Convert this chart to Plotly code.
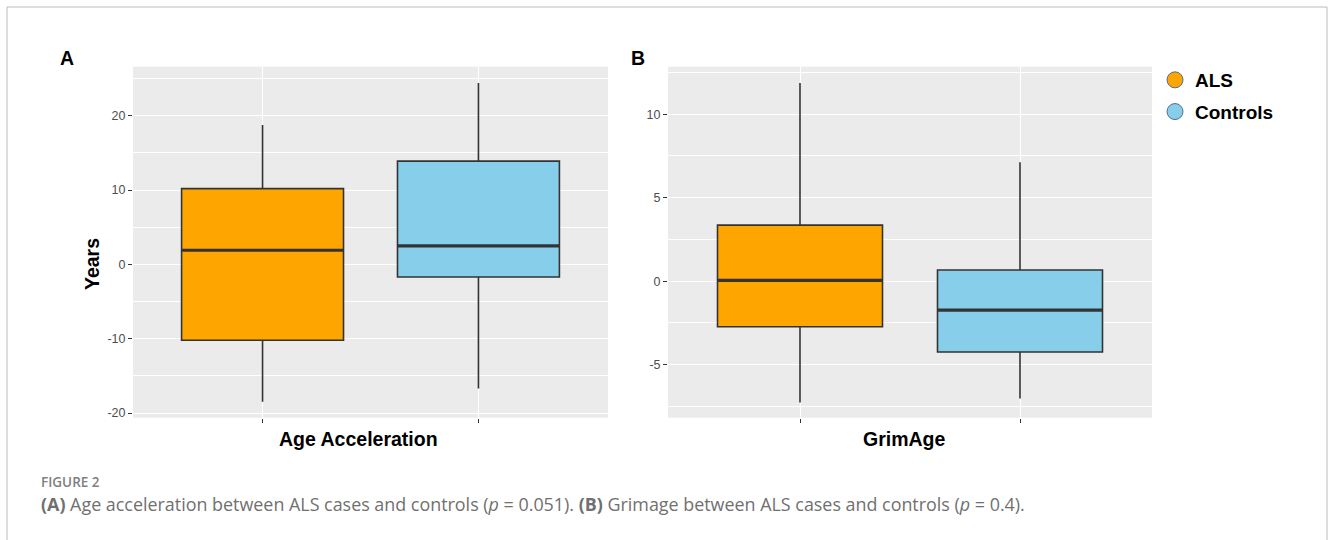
import plotly.graph_objects as go

# ---- data ----
groups = ["ALS", "Controls"]
positions = [0, 1]
colors = ["#FFA500", "#87CEEB"]

# Panel A: Age Acceleration (Years)
a_lower = [-18.5, -16.7]
a_q1 = [-10.2, -1.7]
a_median = [1.9, 2.5]
a_q3 = [10.2, 13.9]
a_upper = [18.75, 24.4]

# Panel B: GrimAge
b_lower = [-7.27, -7.03]
b_q1 = [-2.73, -4.24]
b_median = [0.05, -1.73]
b_q3 = [3.36, 0.67]
b_upper = [11.88, 7.12]

a_ticks = [-20, -10, 0, 10, 20]
a_ticklabels = ["-20", "-10", "0", "10", "20"]
b_ticks = [-5, 0, 5, 10]
b_ticklabels = ["-5", "0", "5", "10"]

W, H = 1330, 540
BOXW = 0.75
LINE = "#333333"

fig = go.Figure()

def add_panel(xref, yref, lower, q1, med, q3, upper):
    for i, g in enumerate(groups):
        fig.add_trace(go.Box(
            x=[positions[i]], lowerfence=[lower[i]], q1=[q1[i]], median=[med[i]],
            q3=[q3[i]], upperfence=[upper[i]], width=BOXW, whiskerwidth=0,
            fillcolor=colors[i], line=dict(color=LINE, width=1.6),
            xaxis=xref, yaxis=yref, showlegend=False, hoverinfo="skip",
            boxpoints=False,
        ))
        # thicker median line (ggplot fatten)
        fig.add_trace(go.Scatter(
            x=[positions[i] - BOXW / 2, positions[i] + BOXW / 2],
            y=[med[i], med[i]], mode="lines",
            line=dict(color=LINE, width=3.2),
            xaxis=xref, yaxis=yref, showlegend=False, hoverinfo="skip",
        ))

add_panel("x", "y", a_lower, a_q1, a_median, a_q3, a_upper)
add_panel("x2", "y2", b_lower, b_q1, b_median, b_q3, b_upper)

# legend entries
for i, g in enumerate(groups):
    fig.add_trace(go.Scatter(
        x=[None], y=[None], mode="markers", name=g, legendgroup=g,
        marker=dict(symbol="circle", size=16, color=colors[i],
                    line=dict(color="#4F6F8F", width=1)),
        xaxis="x2", yaxis="y2",
    ))

ydom = [1 - 417.7 / H, 1 - 66.7 / H]
common_x = dict(range=[-0.6, 1.6], tickvals=positions, showticklabels=False,
                ticks="outside", ticklen=4, tickcolor=LINE, tickwidth=1,
                showgrid=True, gridcolor="white", gridwidth=1.2, zeroline=False,
                showline=False, fixedrange=True)
common_y = dict(ticks="outside", ticklen=4, tickcolor=LINE, tickwidth=1,
                showgrid=True, gridcolor="white", gridwidth=1.2, zeroline=False,
                showline=False, automargin=False,
                tickfont=dict(family="Liberation Sans, Arial", size=12.5, color="#4D4D4D"))

fig.update_layout(
    width=W, height=H, margin=dict(l=0, r=0, t=0, b=0, pad=0, autoexpand=False),
    paper_bgcolor="white", plot_bgcolor="#EBEBEB",
    xaxis=dict(domain=[133 / W, 608 / W], anchor="y", **common_x),
    yaxis=dict(domain=ydom, anchor="x", range=[-20.63, 26.6], tickvals=a_ticks,
               ticktext=a_ticklabels,
               minor=dict(dtick=5, tick0=5, showgrid=True, gridcolor="white", gridwidth=0.6, ticks=""),
               **common_y),
    xaxis2=dict(domain=[668 / W, 1152 / W], anchor="y2", **common_x),
    yaxis2=dict(domain=ydom, anchor="x2", range=[-8.18, 12.85], tickvals=b_ticks,
                ticktext=b_ticklabels,
                minor=dict(dtick=2.5, tick0=2.5, showgrid=True, gridcolor="white", gridwidth=0.6, ticks=""),
                **common_y),
    legend=dict(x=1155 / W, y=1 - 61 / H, xanchor="left", yanchor="top",
                font=dict(family="Liberation Sans, Arial", size=19, color="black", weight="bold"),
                traceorder="grouped", tracegroupgap=4, bgcolor="rgba(0,0,0,0)",
                itemsizing="trace"),
    showlegend=True,
)

bold = dict(family="Liberation Sans, Arial", size=19.5, color="black", weight="bold")
ann = [
    dict(text="A", x=67 / W, y=1 - 58 / H, font=bold),
    dict(text="B", x=638 / W, y=1 - 58 / H, font=bold),
    dict(text="Age Acceleration", x=358 / W, y=1 - 439 / H, font=bold),
    dict(text="GrimAge", x=904 / W, y=1 - 439 / H, font=bold),
    dict(text="Years", x=92 / W, y=1 - 264 / H, font=bold, textangle=-90),
]
for a in ann:
    fig.add_annotation(xref="paper", yref="paper", showarrow=False,
                       xanchor="center", yanchor="middle", **a)

fig.add_annotation(xref="paper", yref="paper", showarrow=False, xanchor="left", yanchor="middle",
                   x=39 / W, y=1 - 482 / H, text="FIGURE 2",
                   font=dict(family="Open Sans", size=13.5, color="#808080", weight=600))
fig.add_annotation(xref="paper", yref="paper", showarrow=False, xanchor="left", yanchor="middle",
                   x=39 / W, y=1 - 504 / H,
                   text="<b>(A)</b> Age acceleration between ALS cases and controls (<i>p</i> = 0.051). "
                        "<b>(B)</b> Grimage between ALS cases and controls (<i>p</i> = 0.4).",
                   font=dict(family="Open Sans", size=17.9, color="#707070"))

# outer frame (bottom edge sits below the visible page)
fig.add_shape(type="rect", xref="paper", yref="paper", x0=7 / W, x1=1327 / W,
              y0=-0.01, y1=1 - 7 / H, line=dict(color="#BBBBBB", width=1))

fig.write_html("out.html")
